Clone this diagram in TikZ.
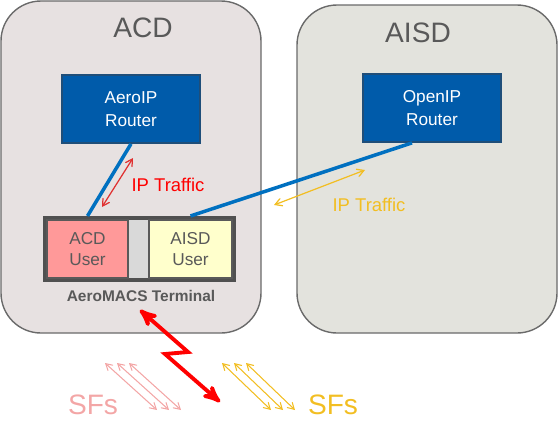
\documentclass[tikz,border=0pt]{standalone}
\usepackage{fontspec}
\setmainfont{Liberation Sans}
\usetikzlibrary{arrows}

\definecolor{acdgray}{HTML}{E7E1E1}
\definecolor{aisdgray}{HTML}{E3E3DD}
\definecolor{domline}{HTML}{6A6A6A}
\definecolor{textgray}{HTML}{595959}
\definecolor{routerblue}{HTML}{005BAA}
\definecolor{routerline}{HTML}{1F4E79}
\definecolor{linkblue}{HTML}{0070C0}
\definecolor{termgray}{HTML}{505050}
\definecolor{gapgray}{HTML}{D9D9D9}
\definecolor{acdpink}{HTML}{FF9999}
\definecolor{aisdyellow}{HTML}{FFFFCC}
\definecolor{trafficred}{HTML}{E03030}
\definecolor{trafficyellow}{HTML}{F2BE22}
\definecolor{sfpink}{HTML}{F3A6A6}
\definecolor{boltred}{HTML}{FF0000}

\begin{document}
\begin{tikzpicture}[x=0.02cm,y=-0.02cm,>=angle 60,
    zone/.style={draw=domline,line width=0.8pt,rounded corners=0.8cm},
    title/.style={text=textgray,font=\fontsize{16}{18}\selectfont},
    router/.style={draw=routerline,line width=1pt,fill=routerblue,text=white,
      minimum width=2.76cm,minimum height=1.36cm,align=center,
      font=\fontsize{9.8}{13}\selectfont},
    user/.style={draw=textgray,line width=0.6pt,minimum height=1.16cm,
      align=center,text=textgray,font=\fontsize{9.8}{12}\selectfont},
    link/.style={line width=2pt,draw=linkblue},
    traffic/.style={<->,line width=0.7pt},
    sf/.style={<->,line width=0.6pt}]
  \useasboundingbox (0,0) rectangle (558,440);

  % domains
  \draw[zone,fill=acdgray] (1,1) rectangle (261,333);
  \draw[zone,fill=aisdgray] (297,5) rectangle (557,333);
  \node[title] (acdtitle) at (143,28) {ACD};
  \node[title] (aisdtitle) at (418,33) {AISD};

  % routers
  \node[router] (aeroip) at (131,109) {AeroIP\\Router};
  \node[router] (openip) at (432,108) {OpenIP\\Router};

  % terminal
  \node[draw=termgray,line width=2.3pt,fill=gapgray,minimum width=3.78cm,
    minimum height=1.24cm] (term) at (139.5,249) {};
  \node[user,fill=acdpink,minimum width=1.62cm] (acduser) at (87.5,249) {ACD\\User};
  \node[user,fill=aisdyellow,minimum width=1.66cm] (aisduser) at (190.5,249) {AISD\\User};
  \node[text=textgray,font=\bfseries\fontsize{8.8}{10}\selectfont] (termlabel)
    at (141,296) {AeroMACS Terminal};

  % links
  \draw[link] (aeroip.south) -- (acduser.north |- term.north);
  \draw[link] ([xshift=-0.4cm]openip.south) -- (aisduser.north |- term.north);

  % traffic
  \coordinate (acdtop) at (133,158);
  \coordinate (acdbot) at (102,207);
  \draw[traffic,draw=trafficred] (acdtop) -- (acdbot);
  \node[text=boltred,font=\fontsize{10.5}{12}\selectfont] (acdtraffic) at (168,185) {IP Traffic};
  \coordinate (aisdleft) at (274,205);
  \coordinate (aisdright) at (365,170);
  \draw[traffic,draw=trafficyellow] (aisdleft) -- (aisdright);
  \node[text=trafficyellow,font=\fontsize{10.5}{12}\selectfont] (aisdtraffic) at (369,205) {IP Traffic};

  % radio link
  \coordinate (bolttop) at (140,310);
  \coordinate (boltbot) at (220,402);
  \draw[<->,>=stealth',line width=2.2pt,draw=boltred]
    (bolttop) -- (188,352) -- (165,354) -- (boltbot);

  % service flows
  \foreach \i in {0,1,2} {
    \draw[sf,draw=sfpink] (105+12*\i,363) -- (157+12*\i,410);
    \draw[sf,draw=trafficyellow] (222+12*\i,363) -- (271+12*\i,410);
  }
  \node[text=sfpink,font=\fontsize{16}{18}\selectfont] (sfacd) at (93,405) {SFs};
  \node[text=trafficyellow,font=\fontsize{16}{18}\selectfont] (sfaisd) at (333,405) {SFs};
\end{tikzpicture}
\end{document}
